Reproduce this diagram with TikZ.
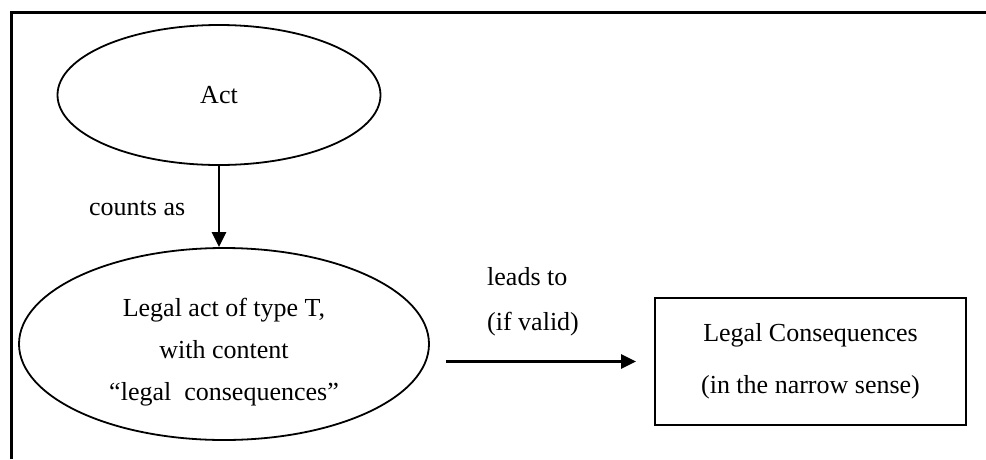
\documentclass[tikz,border=0pt]{standalone}
\usepackage{fontspec}
\setmainfont{Liberation Serif}
\usetikzlibrary{shapes.geometric,arrows.meta}

\begin{document}
\begin{tikzpicture}[x=1pt,y=-1pt]
    \tikzset{every node/.style = {font=\fontsize{26}{42}\selectfont}}
    \tikzset{oval/.style = {shape=ellipse,draw,line width=1.8pt,inner sep=0pt,align=center}}
    \tikzset{result/.style = {shape=rectangle,draw,line width=1.8pt,inner sep=0pt,align=center}}
    \tikzset{lbl/.style = {inner sep=0pt,anchor=base west}}
    \tikzset{link/.style = {-{Triangle[length=15pt,width=14pt]},line width=2.4pt}}
    \useasboundingbox (0,0) rectangle (986,459);
    % frame
    \draw[line width=3pt] (11,459) -- (11,12) -- (986,12);
    % nodes
    \node[oval, minimum width=323pt, minimum height=140pt] (act) at (219,95) {Act};
    \node[oval, minimum width=410pt, minimum height=192pt] (legal) at (224,344)
        {\rule{0pt}{34pt}Legal act of type T,\\ with content\\ “legal~ consequences”};
    \node[result, minimum width=311pt, minimum height=127pt] (conseq) at (810.5,361.5)
        {Legal Consequences\\[10pt] (in the narrow sense)};
    % labels
    \node[lbl] (counts) at (89,215) {counts as};
    \node[lbl] (leads) at (487,285) {leads to};
    \node[lbl] (valid) at (487,330) {(if valid)};
    % arrows
    \draw[link] (act.south) -- (act.south |- legal.north);
    \draw[link, shorten <=16pt, shorten >=18pt] (legal.east |- conseq.west) -- (conseq.west);
\end{tikzpicture}
\end{document}
